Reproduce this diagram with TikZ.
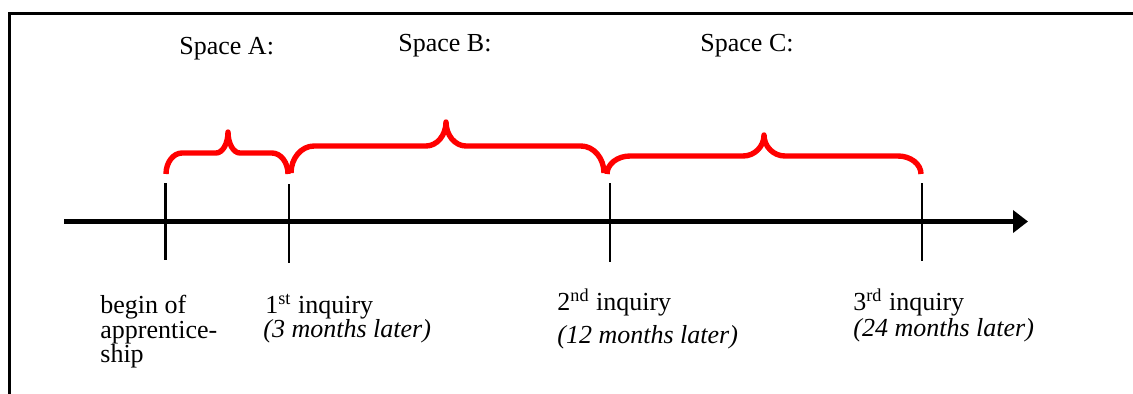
\documentclass[tikz,border=0pt]{standalone}
\usepackage{fontspec}
\setmainfont{Liberation Serif}
\usetikzlibrary{arrows.meta}

\tikzset{
  frameline/.style={line width=1.5pt, line join=miter},
  timeaxis/.style={line width=2.5pt, -{Triangle[length=7.5pt,width=11pt]}},
  minortick/.style={line width=0.75pt},
  majortick/.style={line width=1.5pt},
  bracepath/.style={draw=red, line width=2.7pt, line join=round, line cap=butt},
  lbl/.style={anchor=base west, inner sep=0pt, font=\fontsize{13}{15}\selectfont},
  sublbl/.style={lbl, font=\fontsize{13}{15}\selectfont\itshape},
}

% curly brace: #1 left x, #2 right x, #3 tip x, #4 foot y, #5 flat y, #6 tip y,
% #7 corner radius, #8 tip radius
\newcommand\curlybrace[8]{%
  \draw[bracepath]
    (#1,#4) .. controls (#1,{#4-0.55*(#4-#5)}) and ({#1+0.45*#7},#5) .. ({#1+#7},#5)
    -- ({#3-#8},#5) .. controls ({#3-0.45*#8},#5) and (#3,{#5-0.45*(#5-#6)}) .. (#3,#6)
    .. controls (#3,{#5-0.45*(#5-#6)}) and ({#3+0.45*#8},#5) .. ({#3+#8},#5)
    -- ({#2-#7},#5) .. controls ({#2-0.45*#7},#5) and (#2,{#4-0.55*(#4-#5)}) .. (#2,#4);
}

\begin{document}
\begin{tikzpicture}[x=0.5pt, y=-0.5pt]
  \path[use as bounding box] (0,0) rectangle (1133,393);
  \clip (0,0) rectangle (1133,393);

  % open frame (top and left edges)
  \draw[frameline] (1145,13.3) -- (9.5,13.3) -- (9.5,405);

  % section headings
  \node[lbl] (spa) at (179,54) {Space A:};
  \node[lbl] (spb) at (398,51) {Space B:};
  \node[lbl] (spc) at (700,51) {Space C:};

  % braces over the three periods
  \curlybrace{166}{288}{228}{174}{153}{132}{16}{12}
  \curlybrace{291}{604}{446}{173}{146}{122}{23}{20}
  \curlybrace{607}{921}{764}{174}{156}{135}{23}{21}

  % time axis
  \coordinate (axstart) at (64,221.5);
  \coordinate (axend) at (1028,221.5);
  \draw[timeaxis] (axstart) -- (axend);

  % ticks
  \coordinate (t0a) at (165.5,183); \coordinate (t0b) at (165.5,260);
  \coordinate (t1a) at (289,184);   \coordinate (t1b) at (289,263);
  \coordinate (t2a) at (610,183);   \coordinate (t2b) at (610,262);
  \coordinate (t3a) at (922,183);   \coordinate (t3b) at (922,261);
  \draw[majortick] (t0a) -- (t0b);
  \draw[minortick] (t1a) -- (t1b);
  \draw[minortick] (t2a) -- (t2b);
  \draw[minortick] (t3a) -- (t3b);

  % milestone labels
  \node[lbl] (beg1) at (100,313) {begin of};
  \node[lbl] (beg2) at (100,338) {apprentice-};
  \node[lbl] (beg3) at (100,362) {ship};

  \node[lbl] (inq1) at (265,313) {1\textsuperscript{st} inquiry};
  \node[sublbl] (inq1t) at (263,337) {(3 months later)};

  \node[lbl] (inq2) at (557,310) {2\textsuperscript{nd} inquiry};
  \node[sublbl] (inq2t) at (557,343) {(12 months later)};

  \node[lbl] (inq3) at (853,310) {3\textsuperscript{rd} inquiry};
  \node[sublbl] (inq3t) at (853,336) {(24 months later)};
\end{tikzpicture}
\end{document}
